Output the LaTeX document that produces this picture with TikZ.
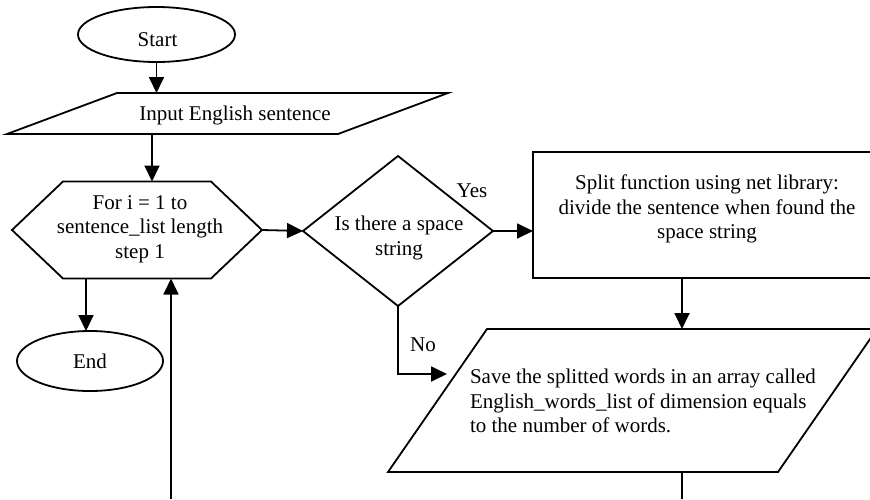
\documentclass[tikz,border=0pt]{standalone}
\usepackage{fontspec}
\setmainfont{Liberation Serif}
\usetikzlibrary{arrows.meta,shapes.geometric}

\tikzset{
  outline/.style={line width=1.8pt, line join=miter},
  frame/.style={rectangle, inner sep=0pt, outer sep=0pt},
  oval/.style={ellipse, draw, line width=1.8pt, inner sep=0pt, outer sep=0pt},
  txt/.style={inner sep=0pt, outer sep=0pt, align=center,
              font=\fontsize{21}{24.5}\selectfont},
  arr/.style={line width=1.8pt, -{Triangle[length=16pt,width=15pt]}},
  flow/.style={line width=1.8pt}
}

\begin{document}
\begin{tikzpicture}[x=1pt, y=-1pt]
  \useasboundingbox (0,0) rectangle (870,499);
  \clip (0,0) rectangle (870,499);

  % terminals
  \node[oval, minimum width=157pt, minimum height=55pt] (start) at (156.5,34.5) {};
  \node[txt] (starttxt) at (157.5,39.5) {Start};
  \node[oval, minimum width=146pt, minimum height=60pt, txt] (end) at (90,361) {End};

  % input parallelogram
  \node[frame, minimum width=441pt, minimum height=41pt] (inp) at (227.5,113.5) {};
  \draw[outline] (inp.south west) -- ([xshift=110pt]inp.north west)
        -- (inp.north east) -- ([xshift=-110pt]inp.south east) -- cycle;
  \node[txt] (inptxt) at (235,115) {Input English sentence};

  % loop hexagon
  \node[frame, minimum width=250pt, minimum height=97pt] (hex) at (137,230) {};
  \draw[outline] (hex.west) -- ([xshift=51pt]hex.north west)
        -- ([xshift=-51pt]hex.north east) -- (hex.east)
        -- ([xshift=-51pt]hex.south east) -- ([xshift=51pt]hex.south west) -- cycle;
  \node[txt] (hextxt) at (140,229) {For i = 1 to\\sentence\_list length\\step 1};

  % decision
  \node[frame, minimum width=190pt, minimum height=150pt] (dia) at (398,231) {};
  \draw[outline] (dia.west) -- (dia.north) -- (dia.east) -- (dia.south) -- cycle;
  \node[txt] (diatxt) at (399,238) {Is there a space\\string};

  % split process
  \node[frame, draw, line width=1.8pt, minimum width=347pt, minimum height=126pt] (split) at (706.5,215) {};
  \node[txt] (splittxt) at (707,209) {Split function using net library:\\divide the sentence when found the\\space string};

  % save parallelogram
  \node[frame, minimum width=489pt, minimum height=143pt] (sv) at (632.5,400.5) {};
  \draw[outline] (sv.south west) -- ([xshift=99pt]sv.north west)
        -- (sv.north east) -- ([xshift=-99pt]sv.south east) -- cycle;
  \node[txt, anchor=west, align=left] (svtxt) at (470,401)
    {Save the splitted words in an array called\\English\_words\_list of dimension equals\\to the number of words.};

  % labels
  \node[txt] (yes) at (472,191) {Yes};
  \node[txt] (no) at (423,345) {No};

  % helper coordinates
  \coordinate (col) at (682,0);
  \coordinate (noEnd) at (447,374);
  \coordinate (loopIn) at (171,499);
  \coordinate (outBottom) at (682,499);

  % connectors
  \draw[arr] (start.south) -- (start.south |- inp.north);
  \draw[arr] ([xshift=15pt]hex.north |- inp.south) -- ([xshift=15pt]hex.north);
  \draw[arr] (hex.east) -- (dia.west);
  \draw[arr] (dia.east) -- (dia.east -| split.west);
  \draw[arr] (split.south -| col) -- (sv.north -| col);
  \draw[arr] (dia.south) |- (noEnd);
  \draw[arr] ([xshift=-4pt]end.north |- hex.south) -- ([xshift=-4pt]end.north);
  \draw[flow] (sv.south -| col) -- (outBottom);
  \draw[arr] (loopIn) -- (loopIn |- hex.south);
\end{tikzpicture}
\end{document}
